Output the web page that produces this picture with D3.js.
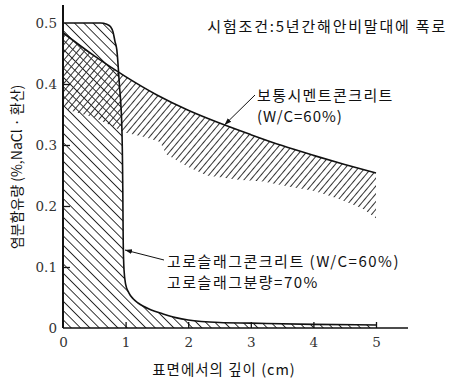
<!DOCTYPE html>
<html>
<head>
<meta charset="utf-8">
<script src="https://cdn.jsdelivr.net/npm/d3@7"></script>
<style>
  html, body { margin: 0; padding: 0; background: #fff; }
  svg { display: block; }
  .kr { font-family: "Noto Sans CJK KR", "Noto Sans", sans-serif; fill: #111; }
  .num { font-family: "DejaVu Serif", "Liberation Serif", serif; fill: #333; }
</style>
</head>
<body>
<svg id="chart" width="450" height="383"></svg>
<script>
// Depth from the surface (cm) and chloride content (%, as NaCl)
const xTicks = [0, 1, 2, 3, 4, 5];
const yTicks = [0, 0.1, 0.2, 0.3, 0.4, 0.5];

// Slag concrete (W/C=60%, slag 70%): measured profile
const slagDepth = [0, 0.6, 0.7, 0.76, 0.8, 0.83, 0.86, 0.9, 0.94, 0.955, 0.962, 0.975, 1.0, 1.05, 1.12, 1.2, 1.4, 1.6, 1.8, 2.0, 2.5, 3, 4, 5];
const slagCl    = [0.5, 0.5, 0.498, 0.494, 0.485, 0.47, 0.456, 0.40, 0.33, 0.23, 0.14, 0.095, 0.072, 0.058, 0.048, 0.041, 0.03, 0.023, 0.017, 0.013, 0.009, 0.008, 0.006, 0.005];

// Ordinary cement concrete (W/C=60%): upper envelope and lower scatter limit
const ordDepth = [0, 0.5, 1, 1.5, 2, 2.5, 3, 3.5, 4, 4.5, 5];
const ordUpper = [0.484, 0.446, 0.412, 0.382, 0.357, 0.336, 0.317, 0.299, 0.283, 0.268, 0.254];
const ordLowDepth = [0, 0.5, 0.9, 1.0, 1.3, 1.55, 1.65, 2.0, 2.3, 2.8, 3.2, 3.6, 4.0, 4.4, 4.8, 5.0];
const ordLower    = [0.36, 0.345, 0.325, 0.32, 0.313, 0.305, 0.285, 0.264, 0.25, 0.243, 0.24, 0.232, 0.225, 0.212, 0.195, 0.18];

const titleText = "시험조건:5년간해안비말대에 폭로";
const xTitle = "표면에서의 깊이 (cm)";
const yTitle = "염분함유량 (%,NaCl · 환산)";
const ordLabel = ["보통시멘트콘크리트", "(W/C=60%)"];
const slagLabel = ["고로슬래그콘크리트 (W/C=60%)", "고로슬래그분량=70%"];

const svg = d3.select("#chart");
const x = d3.scaleLinear().domain([0, 5]).range([63, 376]);
const y = d3.scaleLinear().domain([0, 0.5]).range([328, 23]);

// Hatch patterns
const defs = svg.append("defs");
function hatch(id, spacing, angle, color, width) {
  const p = defs.append("pattern")
    .attr("id", id)
    .attr("patternUnits", "userSpaceOnUse")
    .attr("width", spacing).attr("height", 10)
    .attr("patternTransform", `rotate(${angle})`);
  p.append("line")
    .attr("x1", spacing / 2).attr("y1", -1)
    .attr("x2", spacing / 2).attr("y2", 11)
    .attr("stroke", color).attr("stroke-width", width);
}
hatch("hSlag", 6.6, -45, "#2a2a2a", 1);
hatch("hOrd", 5, 40, "#333", 1);

const slagPts = slagDepth.map((d, i) => [d, slagCl[i]]);
const upperPts = ordDepth.map((d, i) => [d, ordUpper[i]]);

// Slag area under its profile
const slagArea = d3.area()
  .x(d => x(d[0])).y0(y(0)).y1(d => y(d[1]))
  .curve(d3.curveMonotoneX);
svg.append("path").datum(slagPts)
  .attr("d", slagArea).attr("fill", "url(#hSlag)");

// Ordinary concrete scatter band (upper envelope to lower limit)
const upperFn = d3.scaleLinear().domain(ordDepth).range(ordUpper);
const bandPts = ordLowDepth.map((d, i) => ({ d, lo: ordLower[i], hi: upperFn(d) }));
const bandArea = d3.area()
  .x(p => x(p.d)).y0(p => y(p.lo)).y1(p => y(p.hi))
  .curve(d3.curveLinear);
svg.append("path").datum(bandPts)
  .attr("d", bandArea).attr("fill", "url(#hOrd)");

// Profile lines
const line = d3.line().x(d => x(d[0])).y(d => y(d[1])).curve(d3.curveMonotoneX);
svg.append("path").datum(slagPts).attr("d", line)
  .attr("fill", "none").attr("stroke", "#111").attr("stroke-width", 1.6);
svg.append("path").datum(upperPts).attr("d", line)
  .attr("fill", "none").attr("stroke", "#111").attr("stroke-width", 1.6);

// Axes
const fmtY = d => d === 0 ? "0" : d3.format(".1f")(d);
const xAxis = d3.axisBottom(x).tickValues(xTicks).tickFormat(d3.format("d"))
  .tickSizeInner(-6).tickSizeOuter(0).tickPadding(9);
const yAxis = d3.axisLeft(y).tickValues(yTicks).tickFormat(fmtY)
  .tickSizeInner(-7).tickSizeOuter(0).tickPadding(6);

const gx = svg.append("g").attr("transform", `translate(0,${y(0)})`).call(xAxis);
const gy = svg.append("g").attr("transform", `translate(${x(0)},0)`).call(yAxis);
[gx, gy].forEach(g => {
  g.select(".domain").remove();
  g.selectAll(".tick line").attr("stroke", "#111").attr("stroke-width", 1.3);
  g.selectAll(".tick text").attr("class", "num").attr("font-size", 13.5).attr("fill", "#333");
});
gx.selectAll(".tick").filter(d => d === 0).select("line").remove();
gy.selectAll(".tick").filter(d => d === 0 || d === 0.5).select("line").remove();

svg.append("line")
  .attr("x1", x(0)).attr("x2", 408).attr("y1", y(0)).attr("y2", y(0))
  .attr("stroke", "#111").attr("stroke-width", 1.6);
svg.append("line")
  .attr("x1", x(0)).attr("x2", x(0)).attr("y1", 5).attr("y2", y(0))
  .attr("stroke", "#111").attr("stroke-width", 2);

// Axis titles
svg.append("text").attr("class", "kr")
  .attr("x", 224).attr("y", 375).attr("text-anchor", "middle")
  .attr("font-size", 14.5).attr("letter-spacing", 1).text(xTitle);
svg.append("text").attr("class", "kr")
  .attr("transform", `translate(22,167) rotate(-90)`)
  .attr("text-anchor", "middle").attr("font-size", 14).attr("letter-spacing", 0)
  .text(yTitle);

// Test condition
svg.append("text").attr("class", "kr")
  .attr("x", 447).attr("y", 32).attr("text-anchor", "end")
  .attr("font-size", 15).attr("letter-spacing", 1.8).text(titleText);

// Arrow markers
defs.append("marker").attr("id", "arr")
  .attr("viewBox", "0 0 10 10").attr("refX", 10).attr("refY", 5)
  .attr("markerWidth", 7).attr("markerHeight", 7).attr("orient", "auto")
  .append("path").attr("d", "M0,1.5 L10,5 L0,8.5 Z").attr("fill", "#111");

// Ordinary concrete label and leader
svg.append("line")
  .attr("x1", 255).attr("y1", 95).attr("x2", x(2.58)).attr("y2", y(upperFn(2.58)))
  .attr("stroke", "#111").attr("stroke-width", 1).attr("marker-end", "url(#arr)");
ordLabel.forEach((t, i) => {
  svg.append("text").attr("class", "kr")
    .attr("x", 257).attr("y", 101 + i * 21)
    .attr("font-size", 15).attr("letter-spacing", i === 0 ? 1.4 : 1).text(t);
});

// Slag concrete label and leader
svg.append("line")
  .attr("x1", 164).attr("y1", 260).attr("x2", 125).attr("y2", 250)
  .attr("stroke", "#111").attr("stroke-width", 1).attr("marker-end", "url(#arr)");
slagLabel.forEach((t, i) => {
  svg.append("text").attr("class", "kr")
    .attr("x", 167).attr("y", 267 + i * 21)
    .attr("font-size", 15).attr("letter-spacing", 1.5).text(t);
});
</script>
</body>
</html>
